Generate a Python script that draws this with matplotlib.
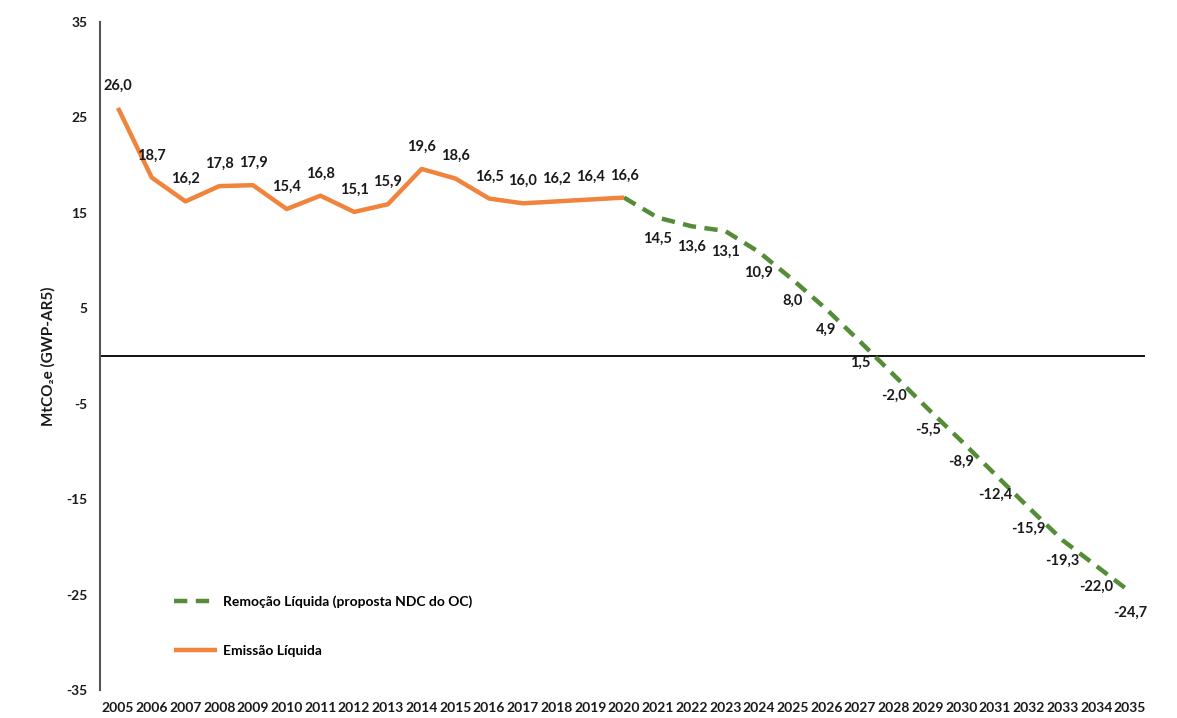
import matplotlib
matplotlib.use("Agg")
import matplotlib.pyplot as plt

plt.rcParams['font.family'] = ['Lato', 'DejaVu Sans']
plt.rcParams['font.weight'] = 'bold'

years_emission = list(range(2005, 2021))
emission = [26.0, 18.7, 16.2, 17.8, 17.9, 15.4, 16.8, 15.1, 15.9, 19.6, 18.6, 16.5, 16.0, 16.2, 16.4, 16.6]
years_removal = list(range(2020, 2036))
removal = [16.6, 14.5, 13.6, 13.1, 10.9, 8.0, 4.9, 1.5, -2.0, -5.5, -8.9, -12.4, -15.9, -19.3, -22.0, -24.7]
yticks = [35, 25, 15, 5, -5, -15, -25, -35]
xticklabels = [str(y) for y in range(2005, 2036)]

orange = '#F0843C'
green = '#548C37'

fig = plt.figure(figsize=(11.77, 7.18), dpi=100)
ax = fig.add_axes([100/1177, 1 - 690/718, 1045/1177, 668/718])

ax.plot(years_removal, removal, color=green, lw=3.2, dashes=(3, 1.9),
        label='Remoção Líquida (proposta NDC do OC)', zorder=3)
ax.plot(years_emission, emission, color=orange, lw=3.2, solid_capstyle='butt',
        label='Emissão Líquida', zorder=3)
ax.axhline(0, color='#111111', lw=1.4, zorder=2)

def fmt(v):
    return f"{v:.1f}".replace('.', ',')

for x, v in zip(years_emission, emission):
    ax.annotate(fmt(v), (x, v), xytext=(0, 16), textcoords='offset points',
                ha='center', va='center', fontsize=10.5, fontweight='bold', color='#1a1a1a')
for x, v in zip(years_removal[1:], removal[1:]):
    ax.annotate(fmt(v), (x, v), xytext=(0, -15), textcoords='offset points',
                ha='center', va='center', fontsize=10.5, fontweight='bold', color='#1a1a1a')

ax.set_xlim(2005 - 18/33.73, 2035 + 15/33.73)
ax.set_ylim(-35, 35)
ax.set_yticks(yticks)
ax.set_yticklabels([str(t) for t in yticks])
ax.set_xticks(list(range(2005, 2036)))
ax.set_xticklabels(xticklabels)
ax.tick_params(axis='both', length=0, labelsize=10, labelcolor='#1a1a1a')
ax.tick_params(axis='y', pad=9)
ax.tick_params(axis='x', pad=9)
for s in ['top', 'right', 'bottom']:
    ax.spines[s].set_visible(False)
ax.spines['left'].set_color('#555555')
ax.spines['left'].set_linewidth(1.5)

ax.set_ylabel('MtCO₂e (GWP-AR5)', fontsize=11, fontweight='bold', color='#1a1a1a', labelpad=8)

leg = ax.legend(loc='upper left', bbox_to_anchor=(67/1045, 1 - (588 - 22)/668), frameon=False,
                handlelength=3.1, handletextpad=0.4, labelspacing=2.7, borderpad=0,
                prop={'size': 10, 'weight': 'bold'})

fig.savefig('out.png', dpi=100, facecolor='white')
